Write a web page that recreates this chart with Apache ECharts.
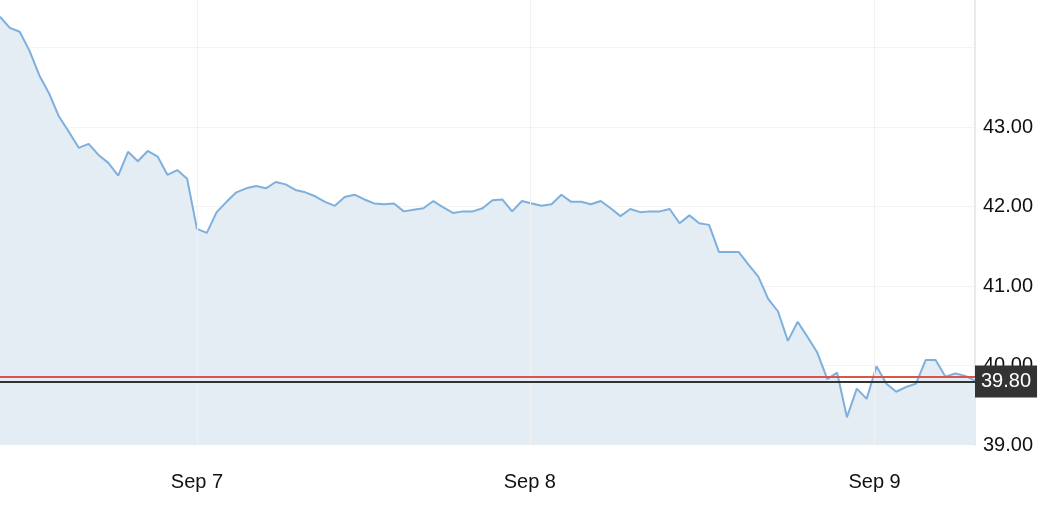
<!DOCTYPE html>
<html>
<head>
<meta charset="utf-8">
<script src="https://cdn.jsdelivr.net/npm/echarts@6/dist/echarts.min.js"></script>
<style>html,body{margin:0;padding:0;background:#fff}#c{width:1052px;height:510px}</style>
</head>
<body>
<div id="c"></div>
<script>
// price values, one per sample step
const prices = [44.39,44.25,44.20,43.96,43.65,43.42,43.13,42.94,42.74,42.79,
  42.65,42.55,42.39,42.69,42.57,42.70,42.63,42.40,42.46,42.35,
  41.72,41.67,41.93,42.06,42.18,42.23,42.26,42.23,42.31,42.28,
  42.21,42.18,42.13,42.06,42.01,42.12,42.15,42.09,42.04,42.03,
  42.04,41.94,41.96,41.98,42.07,41.99,41.92,41.94,41.94,41.98,
  42.08,42.09,41.94,42.07,42.04,42.01,42.03,42.15,42.06,42.06,
  42.03,42.07,41.98,41.88,41.97,41.93,41.94,41.94,41.97,41.79,
  41.89,41.79,41.77,41.43,41.43,41.43,41.27,41.12,40.84,40.68,
  40.31,40.55,40.36,40.16,39.83,39.91,39.35,39.71,39.58,39.99,
  39.77,39.67,39.73,39.77,40.07,40.07,39.86,39.90,39.87,39.81];
// date tick labels and their sample-step positions
const dateLabels = ['Sep 7', 'Sep 8', 'Sep 9'];
const dateSteps = [20.0, 53.8, 88.8];
const prevClose = 39.86;
const lastPrice = 39.80;
const yTicks = [39, 40, 41, 42, 43];

const seriesData = prices.map((v, i) => [i, v]);
const FONT = "'Liberation Sans', Arial, Helvetica, sans-serif";

const chart = echarts.init(document.getElementById('c'));
chart.setOption({
  animation: false,
  textStyle: { fontFamily: FONT },
  grid: { left: 0, right: 77, top: 0, bottom: 65, containLabel: false },
  xAxis: {
    type: 'value', min: 0, max: prices.length - 1,
    axisLine: { show: false }, axisTick: { show: false },
    splitLine: { show: false },
    axisLabel: {
      customValues: dateSteps,
      formatter: (v) => { const k = dateSteps.indexOf(v); return k >= 0 ? dateLabels[k] : ''; },
      color: '#111', fontSize: 20, margin: 27, fontFamily: FONT
    }
  },
  yAxis: {
    type: 'value', position: 'right', min: 39, max: 44.6, interval: 1,
    axisLine: { show: true, onZero: false, lineStyle: { color: '#e6ebf0', width: 2 } },
    axisTick: { show: false },
    splitLine: { show: true, showMaxLine: false, showMinLine: false, lineStyle: { color: '#f3f3f3', width: 1 } },
    axisLabel: {
      color: '#111', fontSize: 20, margin: 8, fontFamily: FONT,
      showMaxLabel: false,
      formatter: (v) => yTicks.indexOf(v) >= 0 ? v.toFixed(2) : ''
    }
  },
  series: [
    {
      type: 'line', z: 1, data: [], silent: true,
      markLine: {
        silent: true, symbol: 'none', animation: false,
        label: { show: false },
        lineStyle: { color: '#f1f1f1', width: 1, type: 'solid' },
        data: dateSteps.map(s => ({ xAxis: s }))
      }
    },
    {
      type: 'line', z: 2, data: seriesData, symbol: 'none', showSymbol: false,
      lineStyle: { color: '#7fb0dd', width: 2 },
      areaStyle: { color: '#e4edf3', opacity: 1, origin: 'start' },
      markLine: {
        silent: true, symbol: 'none', animation: false, z: 10,
        data: [
          { yAxis: prevClose, lineStyle: { color: '#d9534f', width: 2, type: 'solid' }, label: { show: false } },
          { yAxis: lastPrice, lineStyle: { color: '#333333', width: 2, type: 'solid' },
            label: { show: true, position: 'end', distance: 0, formatter: lastPrice.toFixed(2),
              backgroundColor: '#333333', color: '#ffffff', fontSize: 20, fontFamily: FONT,
              padding: [6, 6, 6, 6] } }
        ]
      }
    }
  ]
});
</script>
</body>
</html>
